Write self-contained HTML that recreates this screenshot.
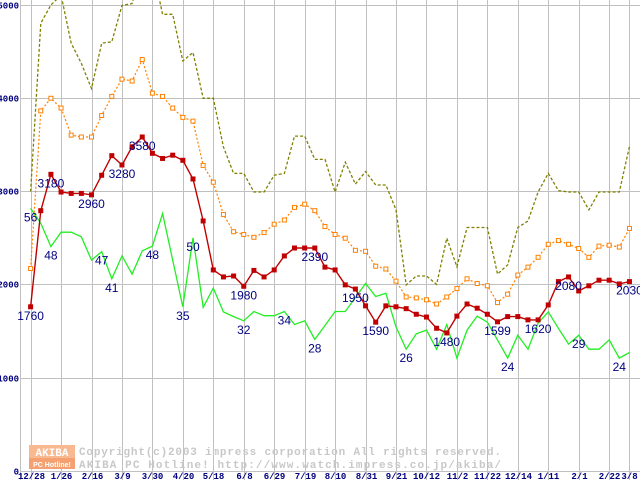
<!DOCTYPE html>
<html><head><meta charset="utf-8"><style>
html,body{margin:0;padding:0;background:#fff;width:640px;height:480px;overflow:hidden}
svg{display:block}
</style></head><body>
<svg id="chart" width="640" height="480" viewBox="0 0 640 480" xmlns="http://www.w3.org/2000/svg">
<g id="grid"></g>
<g id="watermark">
<rect x="29" y="445" width="46" height="13" fill="#f8b890"/>
<rect x="29" y="458" width="46" height="11" fill="#f4a070"/>
<text x="52" y="456" text-anchor="middle" font-family="Liberation Mono, monospace" font-size="11" font-weight="bold" fill="#fff">AKIBA</text>
<text x="52" y="467" text-anchor="middle" font-family="Liberation Sans, sans-serif" font-size="7" font-weight="bold" fill="#fff">PC Hotline!</text>
<text x="79" y="455" font-family="Liberation Mono, monospace" font-size="11" font-weight="bold" fill="#c8c8c8" textLength="422">Copyright(c)2003 impress corporation All rights reserved.</text>
<text x="79" y="468" font-family="Liberation Mono, monospace" font-size="11" font-weight="bold" fill="#c8c8c8" textLength="422">AKIBA PC Hotline!  http://www.watch.impress.co.jp/akiba/</text>
</g>
<g id="series"></g>
<g id="labels"></g>
</svg>
<script>
const xTickLabels = ["12/28","1/26","2/16","3/9","3/30","4/20","5/18","6/8","6/29","7/19","8/10","8/31","9/21","10/12","11/2","11/22","12/14","1/11","2/1","2/22","3/8"];
const xTickIndex = [0,3,6,9,12,15,18,21,24,27,30,33,36,39,42,45,48,51,54,57,59];
const yTicks = [0,1000,2000,3000,4000,5000];
const olive = [2995,4800,4995,5100,4585,4370,4100,4585,4600,4990,5010,5400,5400,4895,4895,4395,4485,3995,3995,3475,3190,3190,2990,2990,3170,3190,3590,3590,3340,3340,2990,3310,3075,3210,3065,3065,2800,1995,2090,2090,2000,2495,2190,2610,2610,2610,2110,2210,2610,2680,2990,3190,3005,2990,2990,2800,2990,2990,2990,3480];
const orange = [2170,3860,3995,3890,3600,3580,3580,3810,4015,4200,4180,4410,4050,4015,3890,3790,3750,3275,3095,2750,2565,2535,2505,2555,2645,2690,2825,2860,2790,2620,2535,2495,2365,2355,2195,2165,2035,1865,1855,1835,1790,1865,1955,2060,2010,1985,1805,1895,2100,2185,2290,2430,2470,2430,2385,2290,2410,2420,2400,2600];
const red = [1760,2790,3180,2990,2975,2975,2960,3170,3380,3280,3475,3580,3405,3350,3385,3330,3130,2680,2155,2080,2090,1980,2150,2080,2155,2305,2390,2390,2390,2185,2155,1995,1950,1770,1595,1770,1760,1740,1680,1650,1530,1480,1660,1790,1745,1680,1599,1655,1655,1620,1620,1780,2030,2080,1930,1985,2045,2045,2005,2030];
const green = [2815,2655,2405,2560,2560,2510,2260,2350,2060,2305,2110,2360,2410,2760,2260,1760,2500,1755,1960,1705,1655,1610,1710,1665,1665,1710,1570,1610,1410,1560,1710,1710,1860,2010,1870,1905,1545,1305,1470,1510,1305,1570,1210,1510,1660,1595,1405,1210,1455,1305,1585,1705,1530,1360,1455,1305,1305,1405,1210,1270];
const redLabelIdx = [0,2,6,9,11,21,28,32,34,41,46,50,53,59];
const redLabelText = ["1760","3180","2960","3280","3580","1980","2390","1950","1590","1480","1599","1620","2080","2030"];
const greenLabelIdx = [0,2,7,8,12,15,16,21,25,28,37,47,54,58];
const greenLabelText = ["56","48","47","41","48","35","50","32","34","28","26","24","29","24"];

const NS="http://www.w3.org/2000/svg";
function xs(i){return 30.6+i*10.15;}
function ys(v){return 471-v*0.0933;}
function mk(tag,attrs,parent){const e=document.createElementNS(NS,tag);for(const k in attrs)e.setAttribute(k,attrs[k]);parent.appendChild(e);return e;}
const grid=document.getElementById('grid'),ser=document.getElementById('series'),lab=document.getElementById('labels');
mk('line',{x1:20.5,y1:0,x2:20.5,y2:480,stroke:'#c0c0c0','stroke-width':1},grid);
yTicks.forEach(v=>{
  const y=Math.round(ys(v))+0.5;
  const l=mk('line',{x1:20,y1:y,x2:640,y2:y,stroke:'#c0c0c0','stroke-width':1},grid);
  
  
  const t=mk('text',{x:19,y:y+3,'text-anchor':'end','font-family':'Liberation Mono, monospace','font-size':9,'font-weight':'bold',fill:'#000080'},grid);
  t.textContent=String(v);
  
  
});
xTickIndex.forEach((idx,k)=>{
  const x=Math.round(xs(idx))+0.5;
  const l=mk('line',{x1:x,y1:0,x2:x,y2:480,stroke:'#c0c0c0','stroke-width':1},grid);
  
  
  const t=mk('text',{x:x,y:479,'text-anchor':'middle','font-family':'Liberation Mono, monospace','font-size':9,'font-weight':'bold',fill:'#000080'},grid);
  t.textContent=xTickLabels[k];
  
  
});
function pts(arr){return arr.map((v,i)=>xs(i).toFixed(1)+','+ys(v).toFixed(1)).join(' ');}
const po=mk('polyline',{points:pts(olive),fill:'none',stroke:'#808000','stroke-width':1.3,'stroke-dasharray':'3,2'},ser);


const por=mk('polyline',{points:pts(orange),fill:'none',stroke:'#ff8000','stroke-width':1.2,'stroke-dasharray':'2,2'},ser);


orange.forEach((v,i)=>{
  const r=mk('rect',{x:xs(i)-2,y:ys(v)-2,width:4,height:4,fill:'#fff',stroke:'#ff8000','stroke-width':1},ser);
  
  
});
const pg=mk('polyline',{points:pts(green),fill:'none',stroke:'#22ee22','stroke-width':1.3},ser);


const pr=mk('polyline',{points:pts(red),fill:'none',stroke:'#c00000','stroke-width':1.4},ser);


red.forEach((v,i)=>{
  const r=mk('rect',{x:xs(i)-2.5,y:ys(v)-2.5,width:5,height:5,fill:'#c00000'},ser);
  
  
});
function addLabels(idxs,texts,arr,name){
  idxs.forEach((idx,k)=>{
    const t=mk('text',{x:xs(idx),y:ys(arr[idx])+13,'text-anchor':'middle','font-family':'Liberation Sans, sans-serif','font-size':12,fill:'#000080'},lab);
    t.textContent=texts[k];
    
    
  });
}
addLabels(redLabelIdx,redLabelText,red,'red-value-label');
addLabels(greenLabelIdx,greenLabelText,green,'green-value-label');
</script>
</body></html>
